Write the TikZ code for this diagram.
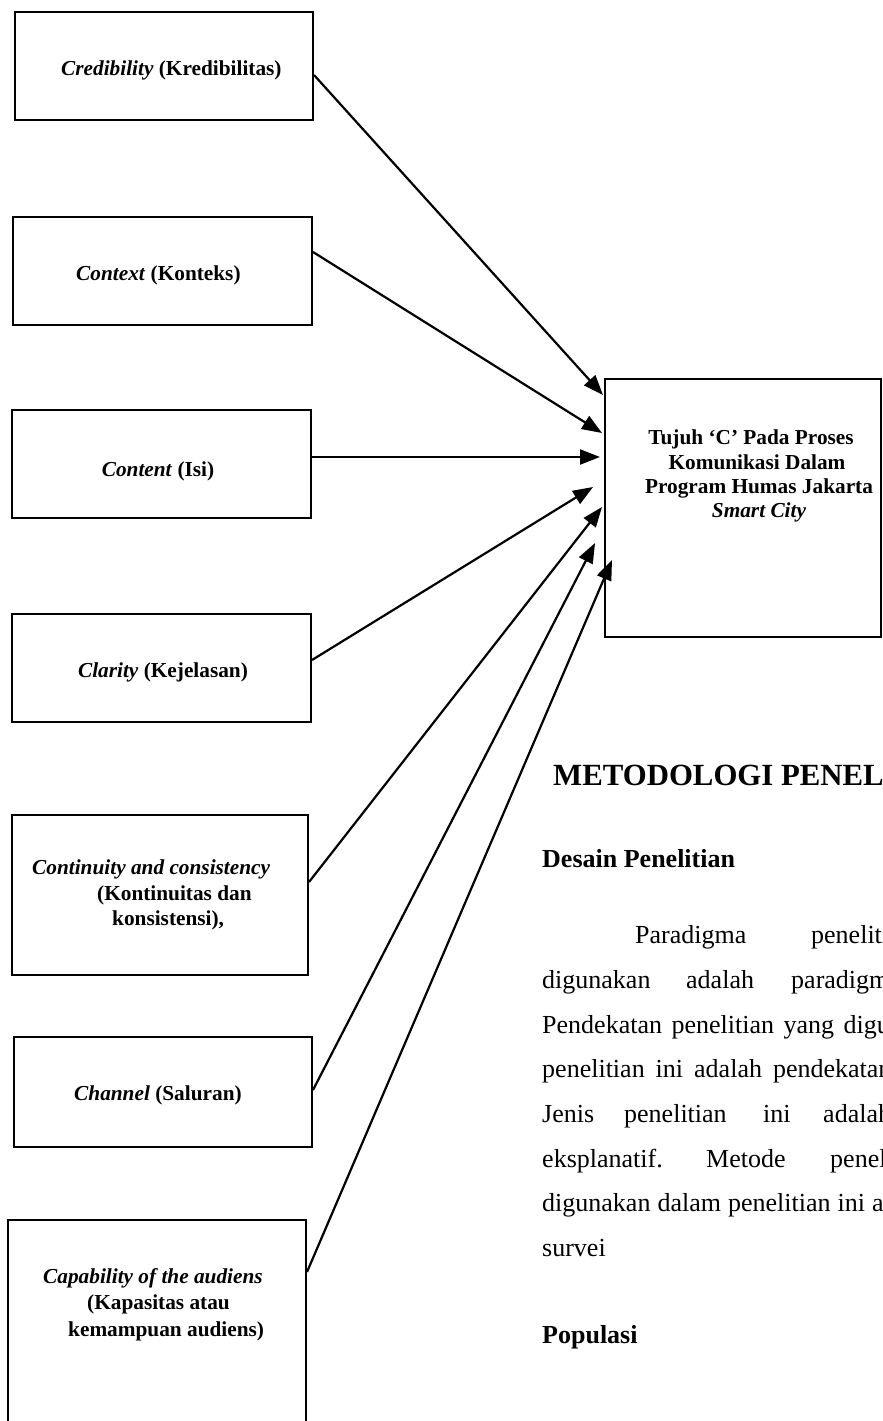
\documentclass[tikz,border=0pt]{standalone}
\usepackage{fontspec}
\setmainfont{Liberation Serif}
\usetikzlibrary{arrows.meta}
\begin{document}
\begin{tikzpicture}[x=1pt,y=-1pt,
  cbox/.style={draw, line width=2pt, inner sep=0pt},
  lbl/.style={font=\fontsize{21.3}{25}\selectfont\bfseries, inner sep=0pt},
  body/.style={font=\fontsize{26}{44.5}\selectfont, inner sep=0pt, anchor=base west},
  head/.style={font=\fontsize{26}{44.5}\selectfont\bfseries, inner sep=0pt, anchor=base west},
  arr/.style={line width=2.2pt, -{Triangle[length=20pt,width=15pt]}}]
\useasboundingbox (0,0) rectangle (883,1421);
\fill[white] (0,0) rectangle (883,1421);
\clip (0,0) rectangle (883,1421);

% left boxes
\node[cbox, minimum width=298pt, minimum height=108pt] (b1) at (164,66) {};
\node[cbox, minimum width=299pt, minimum height=108pt] (b2) at (162.5,271) {};
\node[cbox, minimum width=299pt, minimum height=108pt] (b3) at (161.5,464) {};
\node[cbox, minimum width=299pt, minimum height=108pt] (b4) at (161.5,668) {};
\node[cbox, minimum width=296pt, minimum height=160pt] (b5) at (160,895) {};
\node[cbox, minimum width=298pt, minimum height=110pt] (b6) at (163,1092) {};
\node[cbox, minimum width=298pt, minimum height=220pt] (b7) at (157,1330) {};

% target box
\node[cbox, minimum width=276pt, minimum height=258pt] (T) at (743,508) {};

% box labels
\node[lbl, anchor=base west] (c1) at (61,76) {\textit{Credibility} (Kredibilitas)};
\node[lbl, anchor=base west] (c2) at (76,280) {\textit{Context} (Konteks)};
\node[lbl, anchor=base] (c3) at (158,476) {\textit{Content} (Isi)};
\node[lbl, anchor=base] (c4) at (163,677) {\textit{Clarity} (Kejelasan)};
\node[lbl, anchor=base west] (c5a) at (32,874) {\textit{Continuity and consistency}};
\node[lbl, anchor=base west] (c5b) at (97,900) {(Kontinuitas dan};
\node[lbl, anchor=base west] (c5c) at (112,925) {konsistensi),};
\node[lbl, anchor=base west] (c6) at (74,1100) {\textit{Channel} (Saluran)};
\node[lbl, anchor=base west] (c7a) at (43,1283) {\textit{Capability of the audiens}};
\node[lbl, anchor=base west] (c7b) at (87,1309) {(Kapasitas atau};
\node[lbl, anchor=base west] (c7c) at (68,1336) {kemampuan audiens)};

% target labels
\node[lbl, anchor=base] (ta) at (751,444) {Tujuh ‘C’ Pada Proses};
\node[lbl, anchor=base] (tb) at (757,469) {Komunikasi Dalam};
\node[lbl, anchor=base] (tc) at (759,493) {Program Humas Jakarta};
\node[lbl, anchor=base] (td) at (759,517) {\textit{Smart City}};

% arrow tips
\coordinate (t1) at (603,395);
\coordinate (t2) at (602,433);
\coordinate (t3) at (600,457);
\coordinate (t4) at (593,487);
\coordinate (t5) at (602,507);
\coordinate (t6) at (595,543);
\coordinate (t7) at (612,560);

\draw[arr] ([yshift=-9pt]b1.east) -- (t1);
\draw[arr] ([yshift=19pt]b2.east) -- (t2);
\draw[arr] ([yshift=7pt]b3.east) -- (t3);
\draw[arr] ([yshift=8pt]b4.east) -- (t4);
\draw[arr] ([yshift=13pt]b5.east) -- (t5);
\draw[arr] ([yshift=2pt]b6.east) -- (t6);
\draw[arr] ([yshift=58pt]b7.east) -- (t7);

% text column
\node[head, font=\fontsize{30.8}{36}\selectfont\bfseries] (h1) at (553,785) {METODOLOGI PENELITIAN};
\node[head] (h2) at (542,867) {Desain Penelitian};
\node[body] (l1) at (635,943) {\makebox[176pt][l]{Paradigma}penelitian};
\node[body] (l2) at (542,988) {\makebox[144pt][l]{digunakan}\makebox[105pt][l]{adalah}paradigma};
\node[body] (l3) at (542,1033) {\spaceskip=9.5pt Pendekatan penelitian yang digunakan};
\node[body] (l4) at (542,1077) {\spaceskip=11pt penelitian ini adalah pendekatan};
\node[body] (l5) at (542,1122) {\makebox[82pt][l]{Jenis}\makebox[139pt][l]{penelitian}\makebox[60pt][l]{ini}adalah};
\node[body] (l6) at (542,1167) {\makebox[164pt][l]{eksplanatif.}\makebox[124pt][l]{Metode}penelitian};
\node[body] (l7) at (542,1211) {\spaceskip=7pt digunakan dalam penelitian ini adalah};
\node[body] (l8) at (542,1256) {survei};
\node[head] (h3) at (542,1343) {Populasi};
\end{tikzpicture}
\end{document}
